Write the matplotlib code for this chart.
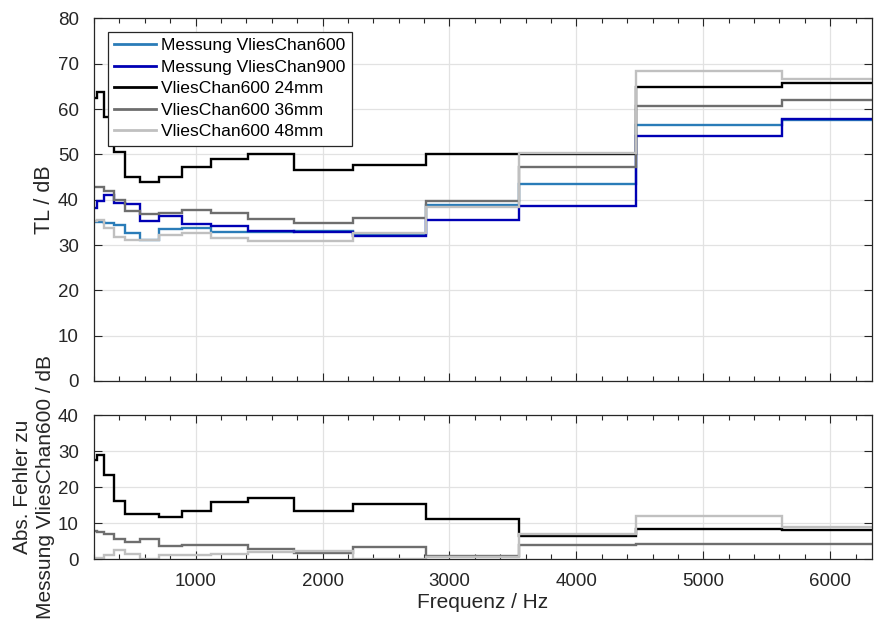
import numpy as np
import matplotlib
matplotlib.use("Agg")
import matplotlib.pyplot as plt
from matplotlib.ticker import MultipleLocator

plt.rcParams["font.family"] = ["Liberation Sans", "DejaVu Sans"]

# Third-octave bands 200 Hz ... 6300 Hz (band index n: fc = 1000 * 10^(n/10))
band_index = np.arange(-7, 9)
band_names = ["200", "250", "315", "400", "500", "630", "800", "1000", "1250",
              "1600", "2000", "2500", "3150", "4000", "5000", "6300"]

# Transmission loss per band in dB
messung_600 = [35.0, 35.0, 34.8, 34.4, 32.6, 31.1, 33.5, 33.8, 32.9, 32.9,
               33.1, 32.5, 38.9, 43.4, 56.5, 57.6]
messung_900 = [38.1, 39.7, 41.0, 39.2, 39.1, 35.2, 36.5, 34.6, 34.3, 33.1,
               32.8, 31.9, 35.5, 38.7, 54.1, 57.8]
sim_24mm = [62.5, 63.8, 58.3, 50.6, 45.1, 43.8, 45.1, 47.3, 48.9, 50.0,
            46.6, 47.7, 50.0, 50.0, 64.9, 65.7]
sim_36mm = [42.9, 42.7, 41.9, 39.9, 37.4, 36.8, 37.1, 37.7, 37.0, 35.7,
            34.8, 35.9, 39.8, 47.3, 60.7, 61.9]
sim_48mm = [35.3, 35.5, 33.7, 31.7, 31.1, 31.0, 32.2, 32.6, 31.5, 30.9,
            30.9, 32.6, 38.3, 50.4, 68.4, 66.6]

labels = ["Messung VliesChan600", "Messung VliesChan900",
          "VliesChan600 24mm", "VliesChan600 36mm", "VliesChan600 48mm"]
colors = ["#2a7cb8", "#0000b4", "#000000", "#6e6e6e", "#c0c0c0"]

# band edges
edges = 1000.0 * 10 ** ((np.append(band_index, band_index[-1] + 1) - 0.5) / 10)

fig = plt.figure(figsize=(8.74, 6.19), dpi=100)
ax1 = fig.add_axes([0.1076, 0.3845, 0.8902, 0.5858])
ax2 = fig.add_axes([0.1076, 0.0964, 0.8902, 0.2331])

lw = 1.7
series = [messung_600, messung_900, sim_24mm, sim_36mm, sim_48mm]
for vals, lab, col in zip(series, labels, colors):
    ax1.stairs(vals, edges, baseline=None, color=col, lw=lw, label=lab)

# absolute deviation of the simulations from the VliesChan600 measurement
ref = np.array(messung_600)
for vals, col in zip(series[2:], colors[2:]):
    ax2.stairs(np.abs(np.array(vals) - ref), edges, baseline=None, color=col, lw=lw)

spine_col = "#262626"
for ax, ymax in ((ax1, 80), (ax2, 40)):
    ax.set_xlim(200, 6330)
    ax.set_ylim(0, ymax)
    ax.xaxis.set_major_locator(MultipleLocator(1000))
    ax.xaxis.set_minor_locator(MultipleLocator(200))
    ax.yaxis.set_major_locator(MultipleLocator(10))
    ax.grid(True, which="major", color="#e2e2e2", lw=0.9)
    ax.set_axisbelow(True)
    ax.tick_params(which="both", direction="in", top=True, right=True,
                   colors=spine_col, labelcolor="#262626", labelsize=13.5)
    ax.tick_params(which="major", length=6, width=0.8)
    ax.tick_params(which="minor", length=3.5, width=0.8)
    ax.tick_params(axis="y", pad=11)
    ax.tick_params(axis="x", pad=10)
    for s in ax.spines.values():
        s.set_color(spine_col)
        s.set_linewidth(0.9)

ax1.tick_params(axis="x", labelbottom=False)
ax1.set_ylabel("TL / dB", fontsize=15.5, color="#262626")
ax1.yaxis.set_label_coords(-0.050, 0.5)
ax2.set_ylabel("Abs. Fehler zu\nMessung VliesChan600 / dB", fontsize=15,
               color="#262626", linespacing=1.25)
ax2.yaxis.set_label_coords(-0.050, 0.5)
ax2.set_xlabel("Frequenz / Hz", fontsize=15, color="#262626", labelpad=2)

leg = ax1.legend(loc="upper left", bbox_to_anchor=(0.018, 0.963),
                 borderaxespad=0, fontsize=12.6, frameon=True, fancybox=False,
                 edgecolor="#262626", framealpha=1, handlelength=2.4,
                 handletextpad=0.3, labelspacing=0.36, borderpad=0.35)
leg.get_frame().set_linewidth(0.9)
for line in leg.get_lines():
    line.set_linewidth(2.0)

fig.savefig("out.png", dpi=100)
